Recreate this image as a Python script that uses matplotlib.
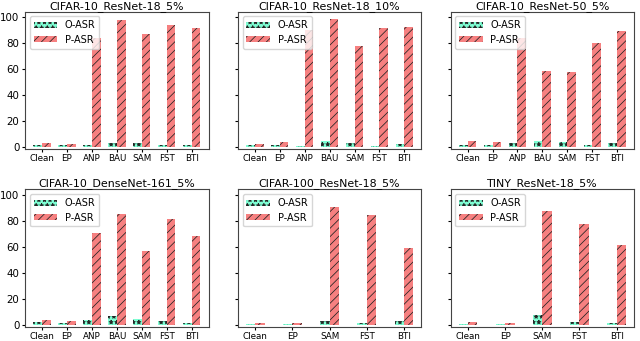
import matplotlib
matplotlib.use("Agg")
import matplotlib.pyplot as plt
import numpy as np

TITLES = [
    "CIFAR-10_ResNet-18_5%",
    "CIFAR-10_ResNet-18_10%",
    "CIFAR-10_ResNet-50_5%",
    "CIFAR-10_DenseNet-161_5%",
    "CIFAR-100_ResNet-18_5%",
    "TINY_ResNet-18_5%",
]

METHODS_7 = ["Clean", "EP", "ANP", "BAU", "SAM", "FST", "BTI"]
METHODS_5 = ["Clean", "EP", "SAM", "FST", "BTI"]

# O-ASR / P-ASR per panel
O_ASR = [
    [1.0, 1.0, 1.5, 3.0, 3.0, 1.0, 1.5],
    [1.0, 1.0, 0.5, 4.6, 3.0, 0.8, 2.0],
    [1.5, 1.5, 3.0, 4.6, 3.8, 1.5, 3.0],
    [2.0, 1.3, 3.3, 6.9, 4.4, 2.6, 1.3],
    [0.3, 0.3, 2.6, 1.3, 2.8],
    [0.3, 0.3, 7.2, 2.3, 1.3],
]
P_ASR = [
    [2.8, 2.3, 83.7, 98.0, 87.2, 93.9, 92.1],
    [1.8, 3.6, 90.3, 99.0, 78.0, 91.8, 92.6],
    [4.6, 3.8, 84.0, 58.7, 57.7, 80.4, 89.5],
    [3.6, 2.6, 71.0, 85.9, 56.9, 81.5, 68.7],
    [1.0, 0.8, 91.0, 84.6, 59.0],
    [1.8, 1.0, 88.0, 77.4, 61.5],
]
CATEGORIES = [METHODS_7, METHODS_7, METHODS_7, METHODS_7, METHODS_5, METHODS_5]

O_COLOR = "#7fffd4"
P_COLOR = "#f68080"


def main():
    plt.rcParams["hatch.linewidth"] = 0.55
    plt.rcParams["hatch.color"] = "#222222"

    fig, axes = plt.subplots(
        2, 3, figsize=(6.4, 3.41), dpi=100, sharey=True,
        gridspec_kw=dict(left=0.039, right=0.991, top=0.966, bottom=0.04,
                         wspace=0.158, hspace=0.29),
    )

    for i, ax in enumerate(axes.flat):
        cats = CATEGORIES[i]
        x = np.arange(len(cats))
        w = 0.35 if len(cats) == 7 else 0.25
        ax.bar(x - w / 2, O_ASR[i], w, color=O_COLOR, hatch="***",
               linewidth=0, label="O-ASR")
        ax.bar(x + w / 2, P_ASR[i], w, color=P_COLOR, hatch="////",
               linewidth=0, label="P-ASR")
        ax.set_xticks(x)
        ax.set_xticklabels(cats, fontsize=6.3)
        ax.set_title(TITLES[i], fontsize=7.9, pad=2)
        ax.tick_params(axis="y", labelsize=7.4, length=2.5, pad=1.5)
        ax.tick_params(axis="x", length=2.5, pad=0.8)
        ax.set_ylim(-2.2, 104.5)
        ax.set_yticks([0, 20, 40, 60, 80, 100])
        ax.legend(loc="upper left", fontsize=7, handlelength=2.4,
                  handleheight=0.6, borderpad=0.4, labelspacing=0.45,
                  handletextpad=0.8)
        for s in ax.spines.values():
            s.set_color("#444444")

    fig.savefig("out.png", dpi=100)
    plt.close(fig)


if __name__ == "__main__":
    main()
